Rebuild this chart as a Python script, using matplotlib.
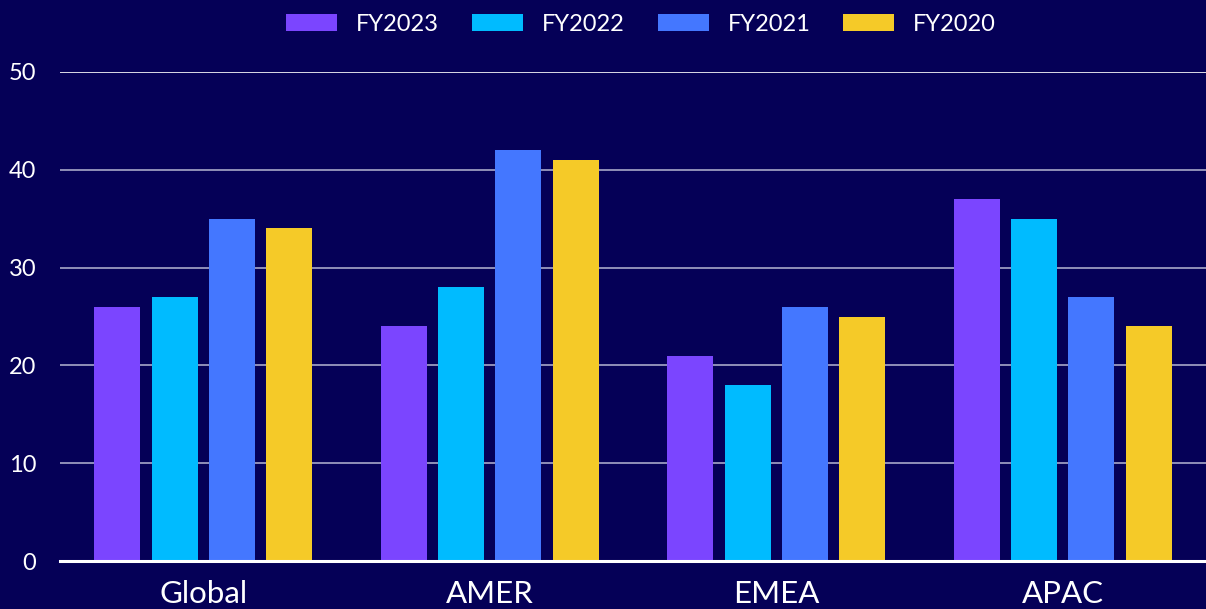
import matplotlib
matplotlib.use("Agg")
import matplotlib.pyplot as plt
import numpy as np

regions = ["Global", "AMER", "EMEA", "APAC"]
series = ["FY2023", "FY2022", "FY2021", "FY2020"]
fy2023 = [26, 24, 21, 37]
fy2022 = [27, 28, 18, 35]
fy2021 = [35, 42, 26, 27]
fy2020 = [34, 41, 25, 24]
values = [fy2023, fy2022, fy2021, fy2020]
colors = ["#7B45FF", "#00BBFF", "#4477FF", "#F5CA28"]
yticks = [0, 10, 20, 30, 40, 50]

bg = "#050057"
plt.rcParams["font.family"] = ["Lato", "DejaVu Sans"]

fig = plt.figure(figsize=(12.06, 6.09), dpi=100, facecolor=bg)
ax = fig.add_axes([60 / 1206, 48 / 609, 1146 / 1206, (561 - 72) / 609])
ax.set_facecolor(bg)

x = np.arange(len(regions))
slot = 0.2
width = 0.16
for i, (name, vals, c) in enumerate(zip(series, values, colors)):
    ax.bar(x + (i - 1.5) * slot, vals, width=width, color=c, label=name, zorder=3)

ax.set_xlim(-0.5, len(regions) - 0.5)
ax.set_ylim(0, 50)
ax.set_yticks(yticks)
ax.set_xticks(x)
ax.set_xticklabels(regions)

for y in yticks[1:]:
    col = "#ffffff" if y == 50 else "#a8a8c8"
    ax.axhline(y, color=col, lw=1.2, zorder=1)
ax.axhline(0, color="#ffffff", lw=2.2, zorder=4, clip_on=False)

for s in ax.spines.values():
    s.set_visible(False)

ax.tick_params(axis="y", length=0, pad=17, labelsize=17, labelcolor="white")
ax.tick_params(axis="x", length=0, pad=14, labelsize=22.5, labelcolor="white")

leg = ax.legend(loc="lower center", bbox_to_anchor=(0.5 + 8 / 1146, 1.0 + 28 / 489), ncol=4,
                frameon=False, fontsize=17, labelcolor="white",
                handlelength=2.16, handleheight=0.76, handletextpad=0.8,
                columnspacing=1.4, borderaxespad=0)

fig.savefig("out.png", dpi=100, facecolor=bg)
